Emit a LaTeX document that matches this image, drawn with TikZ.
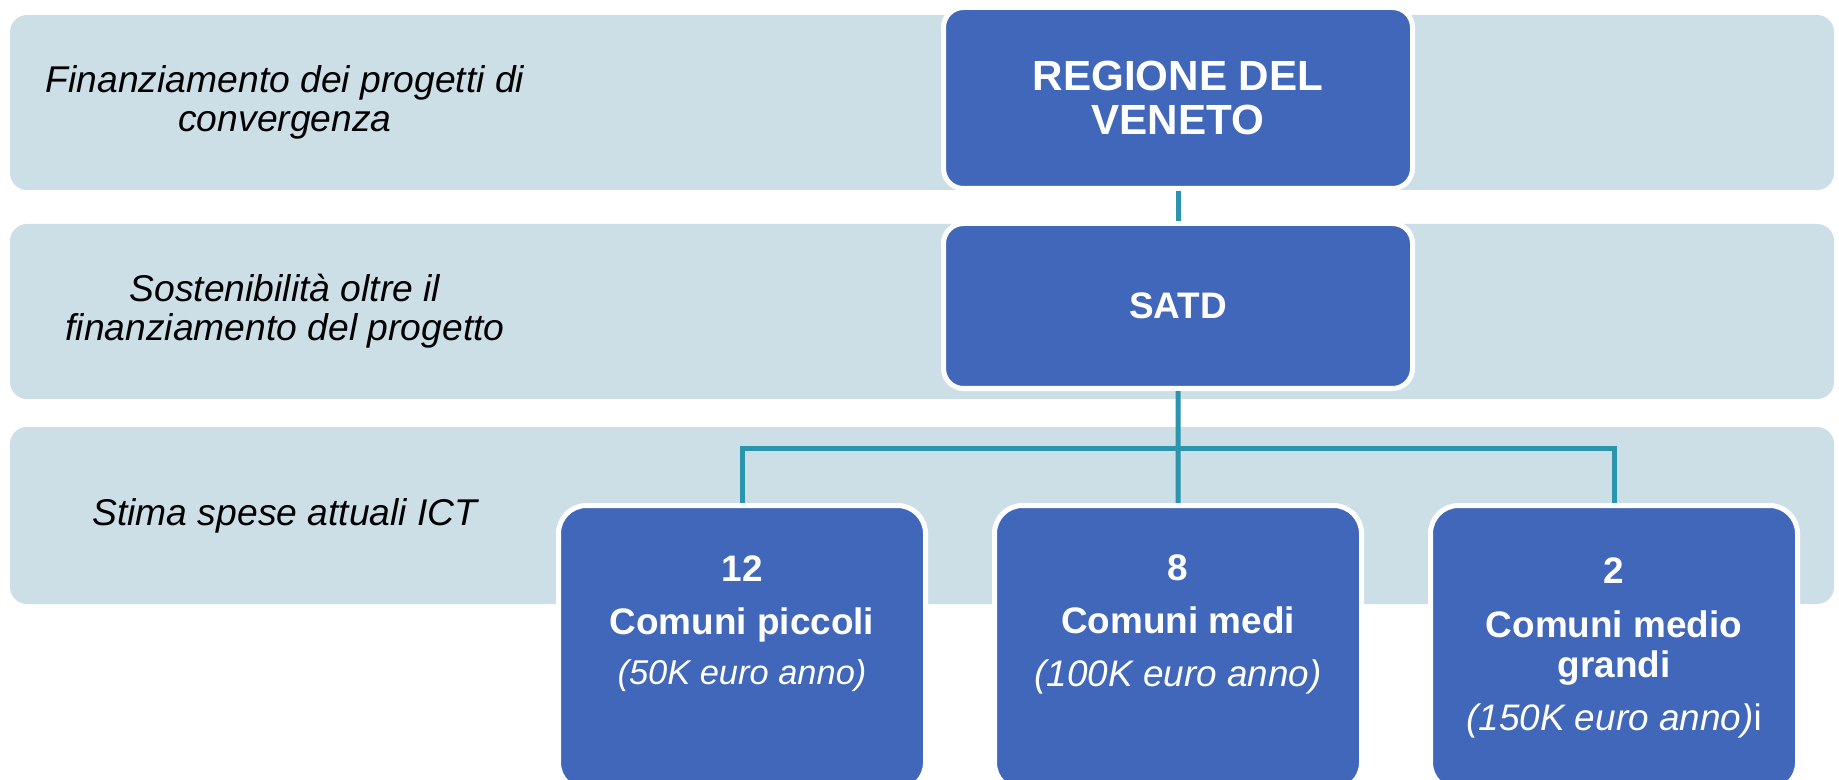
\documentclass[tikz,border=0pt]{standalone}
\usepackage{fontspec}
\setmainfont{Liberation Sans}
\usepackage{tikz}
\usetikzlibrary{positioning}

\definecolor{bandblue}{RGB}{205,223,230}
\definecolor{boxblue}{RGB}{64,103,185}
\definecolor{linkteal}{RGB}{44,149,174}

\begin{document}
\begin{tikzpicture}[
    band/.style={rectangle, rounded corners=0.17cm, fill=bandblue, minimum width=18.24cm, minimum height=1.75cm},
    bandlabel/.style={align=center, inner sep=0, font=\fontsize{10.6}{11.1}\selectfont\itshape},
    topbox/.style={rectangle, rounded corners=0.2cm, fill=boxblue, draw=white, line width=0.05cm, minimum width=4.69cm, text=white, align=center},
    comune/.style={rectangle, rounded corners=0.28cm, fill=boxblue, draw=white, line width=0.05cm, minimum width=3.67cm, minimum height=2.85cm, anchor=north},
    comunetext/.style={align=center, inner sep=0, text=white, font=\fontsize{10.5}{11.4}\selectfont\bfseries},
    link/.style={draw=linkteal, line width=0.05cm}
]
    \useasboundingbox (0,0) rectangle (18.39,7.79);

    % bands
    \node [band] (financing) at (9.22,6.765) {};
    \node [band] (sustain) at (9.22,4.675) {};
    \node [band, minimum height=1.77cm] (costs) at (9.22,2.635) {};

    \node [bandlabel] (financingLabel) at (2.85,6.765) {Finanziamento dei progetti di\\convergenza};
    \node [bandlabel] (sustainLabel) at (2.85,4.675) {Sostenibilità oltre il\\finanziamento del progetto};
    \node [bandlabel] (costsLabel) at (2.85,2.635) {Stima spese attuali ICT};

    % hierarchy
    \node [topbox, minimum height=1.81cm, font=\fontsize{12}{12.5}\selectfont\bfseries] (regione) at (11.78,6.81) {REGIONE DEL\\VENETO};
    \node [topbox, minimum height=1.65cm, font=\fontsize{10.5}{12}\selectfont\bfseries, below=0.3cm of regione] (satd) {SATD};

    \node [comune] (piccoli) at (7.42,2.76) {};
    \node [comune, right=0.64cm of piccoli] (medi) {};
    \node [comune, right=0.64cm of medi] (grandi) {};

    \node [comunetext, below=0.52cm of piccoli.north] (piccoliText) {12\\[3.7pt]Comuni piccoli\\[2.8pt]{\mdseries\itshape\fontsize{9.8}{11.4}\selectfont(50K euro anno)}};
    \node [comunetext, below=0.51cm of medi.north] (mediText) {8\\[3.7pt]Comuni medi\\[3.7pt]{\mdseries\itshape\fontsize{10.5}{11.4}\selectfont(100K euro anno)}};
    \node [comunetext, below=0.54cm of grandi.north] (grandiText) {2\\[4pt]Comuni medio\\grandi\\[3.7pt]{\mdseries\fontsize{10.5}{11.4}\selectfont{\itshape(150K euro anno)}i}};

    % connectors
    \coordinate [below=0.575cm of satd.south] (split);
    \draw [link] (regione) -- (satd);
    \draw [link] (satd) -- (medi);
    \draw [link] (split) -| (piccoli);
    \draw [link] (split) -| (grandi);
\end{tikzpicture}
\end{document}
